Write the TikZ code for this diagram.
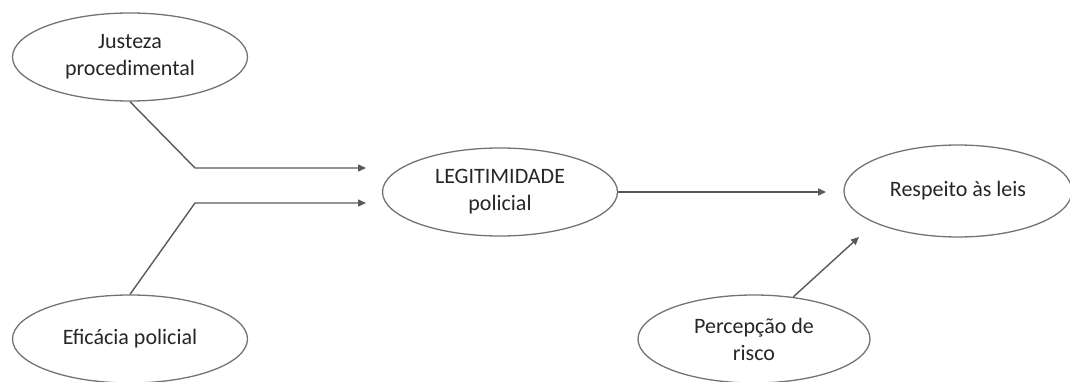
\documentclass[tikz,border=0pt]{standalone}
\usepackage{fontspec}
\setmainfont{Carlito}
\usetikzlibrary{shapes.geometric,arrows.meta}
\begin{document}
\begin{tikzpicture}[x=1pt,y=-1pt,
  oval/.style={ellipse,draw=black!55,line width=1.3pt,fill=white,inner sep=0pt,
    minimum width=235pt,minimum height=88pt,align=center,text=black!85,
    font=\fontsize{22}{27}\selectfont},
  conn/.style={draw=black!65,line width=1.4pt},
  arr/.style={conn,-{Triangle[length=8pt,width=7pt]}}]
\useasboundingbox (0,0) rectangle (1070,382);
\node[oval] (j) at (130,57) {Justeza\\procedimental};
\node[oval] (e) at (130,339) {Eficácia policial};
\node[oval] (l) at (500,192) {LEGITIMIDADE\\policial};
\node[oval,minimum width=228pt,minimum height=92pt] (r) at (958,191) {Respeito às leis};
\node[oval,minimum width=232pt] (p) at (754,339) {Percepção de\\risco};
\coordinate (jb) at (195,168);
\coordinate (je) at (366,168);
\coordinate (eb) at (195,203);
\coordinate (ee) at (366,203);
\coordinate (le) at (826,192);
\coordinate (pe) at (859,237);
\draw[arr] (j.south) -- (jb) -- (je);
\draw[arr] (e.north) -- (eb) -- (ee);
\draw[arr] (l.east) -- (le);
\draw[arr] (p.47) -- (pe);
\end{tikzpicture}
\end{document}
